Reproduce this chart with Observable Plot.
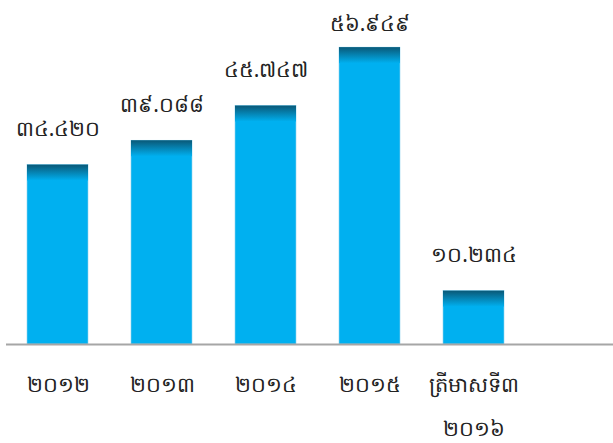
<!DOCTYPE html>
<html>
<head>
<meta charset="utf-8">
<script src="https://cdn.jsdelivr.net/npm/d3@7"></script>
<script src="https://cdn.jsdelivr.net/npm/@observablehq/plot@0.6"></script>
<style>
  html, body { margin: 0; padding: 0; background: #fff; }
  #chart { width: 613px; height: 443px; }
</style>
</head>
<body>
<div id="chart"></div>
<script>
const categories = ["២០១២", "២០១៣", "២០១៤", "២០១៥", "ត្រីមាសទី៣\n២០១៦"];
const values = [34.420, 39.088, 45.747, 56.949, 10.234];
const valueLabels = ["៣៤.៤២០", "៣៩.០៨៨", "៤៥.៧៤៧", "៥៦.៩៤៩", "១០.២៣៤"];

const data = categories.map((c, i) => ({ category: c, value: values[i], label: valueLabels[i] }));

const yMax = 66;
const labelOffset = 6.9;
const labelCeiling = 61.5;

const fontFamily = "'Noto Sans', 'DejaVu Sans', sans-serif";

const chart = Plot.plot({
  width: 613,
  height: 443,
  marginTop: 0,
  marginBottom: 99,
  marginLeft: 6,
  marginRight: 0,
  style: { fontFamily, background: "#fff" },
  x: { domain: categories, range: [6, 526], paddingInner: 0.41, paddingOuter: 0.205, axis: null },
  y: { domain: [0, yMax], axis: null },
  marks: [
    Plot.barY(data, { x: "category", y: "value", fill: "#00b0f0", stroke: "#8fd3ee", strokeWidth: 0.6 }),
    Plot.barY(data, { x: "category", y1: "value", y2: "value", insetBottom: -16, fill: "url(#topShade)" }),
    Plot.ruleY([0], { stroke: "#a6a6a6", strokeWidth: 2 }),
    Plot.text(data, {
      x: "category",
      y: d => Math.min(d.value + labelOffset, labelCeiling),
      text: "label",
      fontSize: 21,
      fill: "#222"
    }),
    Plot.axisX({ tickSize: 0, tickPadding: 16, fontSize: 21, lineHeight: 2.1, color: "#222", label: null })
  ]
});

const defs = d3.select(chart).insert("defs", ":first-child");
const grad = defs.append("linearGradient").attr("id", "topShade").attr("x1", 0).attr("y1", 0).attr("x2", 0).attr("y2", 1);
grad.append("stop").attr("offset", "0%").attr("stop-color", "#0a5877");
grad.append("stop").attr("offset", "100%").attr("stop-color", "#00b0f0");

document.getElementById("chart").appendChild(chart);
</script>
</body>
</html>
